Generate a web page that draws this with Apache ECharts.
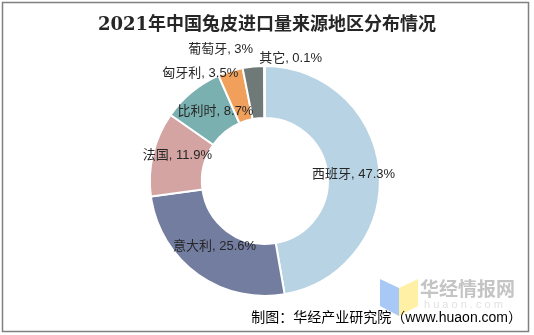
<!DOCTYPE html>
<html>
<head>
<meta charset="utf-8">
<script src="https://cdn.jsdelivr.net/npm/echarts@6/dist/echarts.min.js"></script>
<style>
html,body{margin:0;padding:0;background:#fff;}
#chart{width:534px;height:335px;}
</style>
</head>
<body>
<div id="chart"></div>
<script>
// Data
const titleText = '2021年中国兔皮进口量来源地区分布情况';
const sourceText = '制图：华经产业研究院（www.huaon.com）';
const categories = ['西班牙', '意大利', '法国', '比利时', '匈牙利', '葡萄牙', '其它'];
const shares = [47.3, 25.6, 11.9, 8.7, 3.5, 3, 0.1];

// Styling
const colors = ['#B8D3E3', '#727DA0', '#D4A4A3', '#7AB0B0', '#F0A05B', '#6F7A78', '#9AA0A6'];
const labelDx = [-3, 4, 2, 9, -37, -35, 26];
const labelDy = [1, -9, -4, 2, -20, -40, -30];

const chart = echarts.init(document.getElementById('chart'), null, {renderer: 'canvas'});
const font = '"Liberation Sans", "Noto Sans CJK SC", sans-serif';

chart.setOption({
  animation: false,
  backgroundColor: '#fff',
  title: {
    text: titleText,
    left: 'center',
    top: 11,
    textStyle: {
      fontFamily: '"DejaVu Serif", "Noto Sans CJK SC", serif',
      fontWeight: 'bold',
      fontSize: 18,
      color: '#262626'
    }
  },
  graphic: [
    {
      type: 'rect',
      shape: {x: 2.5, y: 2.5, width: 526, height: 329},
      style: {fill: 'none', stroke: '#808080', lineWidth: 1.5},
      silent: true
    },
    {
      type: 'polygon',
      shape: {points: [[380, 279], [399, 288], [399, 316], [380, 306]]},
      style: {fill: '#A8C8F6'},
      silent: true
    },
    {
      type: 'polygon',
      shape: {points: [[399, 288], [418, 279], [418, 306], [399, 316]]},
      style: {fill: '#FFF0A6'},
      silent: true
    },
    {
      type: 'text',
      left: 420,
      top: 279,
      style: {
        text: '华经情报网',
        font: 'bold 19px "Noto Sans CJK SC", sans-serif',
        fill: '#C4C4C4'
      },
      silent: true
    },
    {
      type: 'text',
      left: 424,
      top: 299,
      style: {
        text: 'h u a o n . c o m',
        font: '11px "Liberation Sans", sans-serif',
        fill: '#E2E2E2'
      },
      silent: true
    },
    {
      type: 'text',
      right: 12,
      top: 311,
      style: {
        text: sourceText,
        font: '14px "Liberation Sans", "Noto Sans CJK SC", sans-serif',
        fill: '#000'
      },
      silent: true
    }
  ],
  series: [{
    type: 'pie',
    center: ['49.6%', '54%'],
    radius: [63, 115],
    startAngle: 90,
    clockwise: true,
    avoidLabelOverlap: false,
    minAngle: 0,
    itemStyle: {borderColor: '#fff', borderWidth: 2},
    label: {
      show: true,
      position: 'inside',
      formatter: '{b}, {c}%',
      fontFamily: font,
      fontSize: 13,
      color: '#262626'
    },
    labelLine: {show: false},
    labelLayout: function (params) {
      return {dx: labelDx[params.dataIndex], dy: labelDy[params.dataIndex]};
    },
    emphasis: {disabled: true},
    data: categories.map((name, i) => ({
      name: name,
      value: shares[i],
      itemStyle: {color: colors[i]}
    }))
  }]
});
</script>
</body>
</html>
